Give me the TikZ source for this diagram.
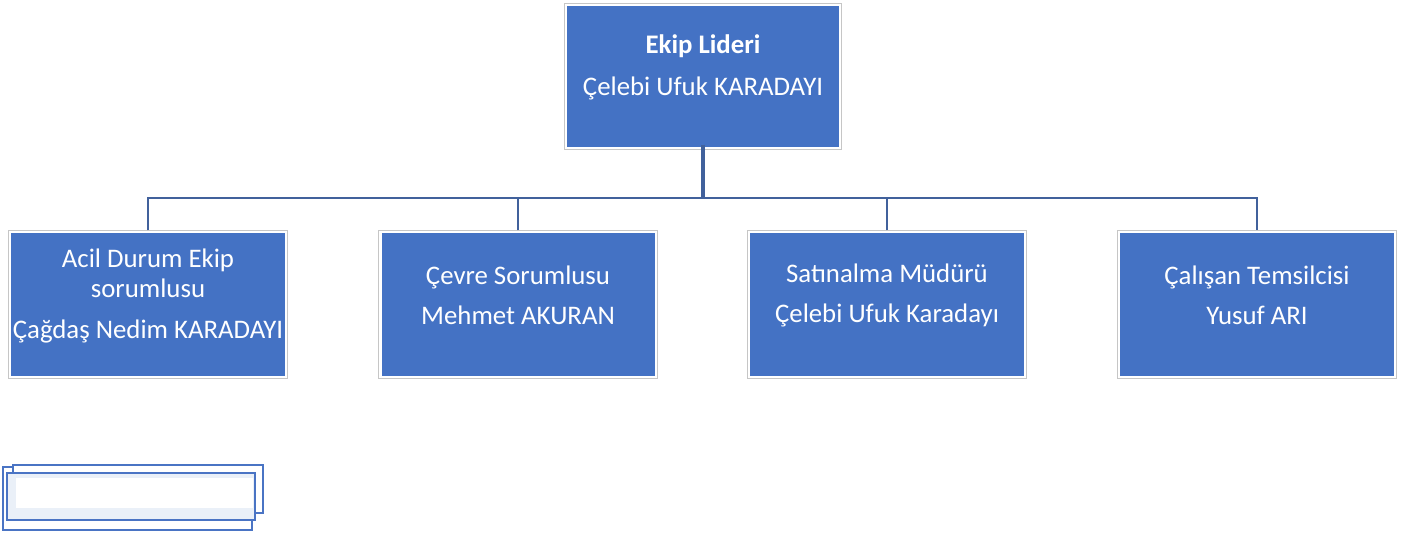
\documentclass[tikz,border=0pt]{standalone}
\usepackage{fontspec}
\setmainfont{Carlito}
\definecolor{boxblue}{HTML}{4472C4}
\definecolor{edgegray}{HTML}{C6C6C6}
\definecolor{linkblue}{HTML}{41619C}
\definecolor{lightfill}{HTML}{EAF0F8}
\definecolor{decoblue}{HTML}{4A74C4}
\begin{document}
\begin{tikzpicture}[x=1pt,y=-1pt,
  orgbox/.style={fill=boxblue, draw=none, inner sep=0pt},
  edge/.style={draw=edgegray, line width=1.2pt},
  txt/.style={text=white, align=center, inner sep=0pt, font=\fontsize{26.8}{30}\selectfont},
  link/.style={draw=linkblue, line width=2.6pt},
  decobox/.style={draw=decoblue, line width=2.3pt}]
\useasboundingbox (0,0) rectangle (1401,536);
% boxes
\node[orgbox, minimum width=272pt, minimum height=141pt] (top) at (703,76.5) {};
\node[orgbox, minimum width=274pt, minimum height=143pt] (a) at (148,304.5) {};
\node[orgbox, minimum width=273pt, minimum height=143pt] (b) at (518,304.5) {};
\node[orgbox, minimum width=274pt, minimum height=143pt] (c) at (887,304.5) {};
\node[orgbox, minimum width=274pt, minimum height=143pt] (d) at (1257,304.5) {};
\foreach \n in {top,a,b,c,d}
  \draw[edge] ([shift={(-2.5pt,2.5pt)}]\n.north west) rectangle ([shift={(2.5pt,-2.5pt)}]\n.south east);
% texts
\node[txt] (toptext) at ([yshift=9pt]top.center) {\textbf{Ekip Lideri}\\[12pt]Çelebi Ufuk KARADAYI};
\node[txt] (atext) at ([yshift=9pt]a.center) {Acil Durum Ekip\\sorumlusu\\[11pt]Çağdaş Nedim KARADAYI};
\node[txt] (btext) at ([yshift=9pt]b.center) {Çevre Sorumlusu\\[10pt]Mehmet AKURAN};
\node[txt] (ctext) at ([yshift=9pt]c.center) {Satınalma Müdürü\\[10pt]Çelebi Ufuk Karadayı};
\node[txt] (dtext) at ([yshift=9pt]d.center) {Çalışan Temsilcisi\\[10pt]Yusuf ARI};
% connectors
\coordinate (bus) at (703,198);
\draw[link, line width=3.2pt] ([yshift=2.5pt]top.south) -- (bus);
\draw[link] ([yshift=2.5pt]a.north) |- (bus) -| ([yshift=2.5pt]d.north);
\draw[link] ([yshift=2.5pt]b.north) -- (b.north |- bus);
\draw[link] ([yshift=2.5pt]c.north) -- (c.north |- bus);
% decoration bottom left
\draw[decobox, fill=white] (3,467) rectangle (252,530);
\draw[decobox, fill=white] (13,465) rectangle (263,513);
\draw[decobox, fill=lightfill] (7,473) rectangle (255,520);
\fill[white] (16,478) rectangle (253,508);
\end{tikzpicture}
\end{document}
